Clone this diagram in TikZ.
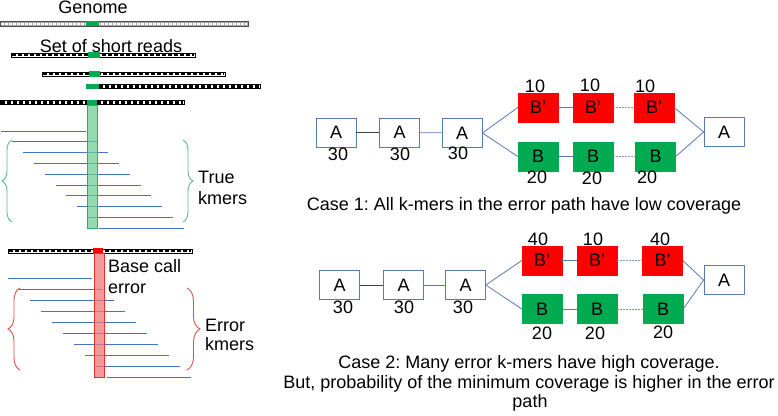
\documentclass[tikz,border=0pt]{standalone}
\usepackage{fontspec}
\setmainfont{Liberation Sans}
\usetikzlibrary{decorations.pathreplacing}
\definecolor{boxblue}{RGB}{90,120,180}
\definecolor{lineblue}{RGB}{68,114,196}
\definecolor{errred}{RGB}{255,0,0}
\definecolor{okgreen}{RGB}{0,170,80}
\definecolor{colgreen}{RGB}{110,205,150}
\definecolor{colgreenb}{RGB}{50,170,100}
\definecolor{colred}{RGB}{240,120,120}
\definecolor{colredb}{RGB}{220,50,50}
\definecolor{bracegreen}{RGB}{90,185,130}
\definecolor{bracered}{RGB}{215,80,80}
\frenchspacing
\begin{document}
\begin{tikzpicture}[x=1pt,y=-1pt,
  txt/.style={font=\fontsize{18}{21}\selectfont, inner sep=0pt},
  abox/.style={txt, draw=boxblue, fill=white, line width=0.8pt, minimum width=40pt, minimum height=29pt},
  rbox/.style={txt, draw=errred, fill=errred, minimum width=40pt, minimum height=29pt},
  gbox/.style={txt, draw=okgreen, fill=okgreen, minimum width=40pt, minimum height=29pt},
  conn/.style={draw=boxblue, line width=0.8pt},
  dconn/.style={draw=boxblue!80, line width=0.6pt, dash pattern=on 2pt off 1pt},
  kconn/.style={draw=black!75, line width=0.8pt},
  kmer/.style={draw=lineblue, line width=0.8pt},
  readbar/.style={draw=black, fill=white, line width=0.6pt},
  readfill/.style={draw=black, line width=2.4pt, dash pattern=on 4pt off 2pt},
  bracestyle/.style={decorate, line width=0.9pt}
]
\useasboundingbox (0,0) rectangle (778,415);

% ---------------- left panel ----------------
\node[txt, anchor=base] (genome) at (93,13) {Genome};
\draw[black!70, fill=black!35, line width=0.6pt] (0,21) rectangle (248,26);
\draw[white, line width=2pt, dash pattern=on 2.5pt off 1.5pt] (1,23.5) -- (247,23.5);
\fill[okgreen] (86,21) rectangle (99,26);

\node[txt, anchor=base] (reads) at (111,52) {Set of short reads};
\foreach \xa/\xb/\yy/\ga/\gb in {11/195/55/88/100, 42/225/74/89/100, 86/260/86.5/86/99, 0/184/102.5/87/97}{
  \draw[readbar] (\xa,\yy-2.2) rectangle (\xb,\yy+2.2);
  \draw[readfill] (\xa+1,\yy) -- (\xb-1,\yy);
  \fill[okgreen] (\ga,\yy-2.6) rectangle (\gb,\yy+2.6);
}

% true kmers
\foreach \i in {0,...,9}{
  \pgfmathsetmacro{\ya}{131+10.8*\i}
  \pgfmathsetmacro{\xa}{1+10.9*\i}
  \draw[kmer] (\xa,\ya) -- (\xa+85,\ya);
}
\draw[draw=colgreenb, fill=colgreen, fill opacity=0.75, line width=0.8pt] (87,105) rectangle (97,228);
\draw[bracestyle, draw=bracegreen, decoration={brace, amplitude=10pt}] (12,222) -- (12,140);
\draw[bracestyle, draw=bracegreen, decoration={brace, amplitude=10pt}] (183,140) -- (183,222);
\node[txt, anchor=base west] (true1) at (198,183) {True};
\node[txt, anchor=base west] (true2) at (198,204) {kmers};

% error read
\draw[readbar] (8,248.8) rectangle (192,253.2);
\draw[readfill] (9,251) -- (191,251);
\fill[errred] (93,248.4) rectangle (103,253.6);
\foreach \i in {0,...,9}{
  \pgfmathsetmacro{\ya}{278+11*\i}
  \pgfmathsetmacro{\xa}{8+11*\i}
  \draw[kmer] (\xa,\ya) -- (\xa+84,\ya);
}
\draw[draw=colredb, fill=colred, fill opacity=0.75, line width=0.8pt] (94,253) rectangle (104,377);
\node[txt, anchor=base west] (bc1) at (108,272) {Base call};
\node[txt, anchor=base west] (bc2) at (108,293) {error};
\draw[bracestyle, draw=bracered, decoration={brace, amplitude=12pt}] (20,370) -- (20,288);
\draw[bracestyle, draw=bracered, decoration={brace, amplitude=13pt}] (187,288) -- (187,370);
\node[txt, anchor=base west] (ek1) at (205,331) {Error};
\node[txt, anchor=base west] (ek2) at (205,350) {kmers};

% ---------------- case 1 ----------------
\node[abox] (a11) at (336,132.5) {A};
\node[abox] (a12) at (399.5,132.5) {A};
\node[abox] (a13) at (462,133) {A};
\node[rbox] (e11) at (538,107.5) {B’};
\node[rbox] (e12) at (593,107.5) {B’};
\node[rbox] (e13) at (654,107.5) {B’};
\node[gbox] (b11) at (538,156.5) {B};
\node[gbox] (b12) at (593,156.5) {B};
\node[gbox] (b13) at (655.5,156.5) {B};
\node[abox] (a14) at (724,132) {A};
\draw[kconn] (a11) -- (a12);
\draw[conn] (a12) -- (a13);
\draw[conn] (a13.east) -- (e11.west);
\draw[conn] (a13.east) -- (b11.west);
\draw[conn] (e11) -- (e12);
\draw[dconn] (e12) -- (e13);
\draw[conn] (b11) -- (b12);
\draw[dconn] (b12) -- (b13);
\draw[conn] (e13.east) -- (a14.west);
\draw[conn] (b13.east) -- (a14.west);
\node[txt] (n111) at (338,154) {30};
\node[txt] (n112) at (400,154) {30};
\node[txt] (n113) at (458,153) {30};
\node[txt] (n114) at (535,86) {10};
\node[txt] (n115) at (590,85) {10};
\node[txt] (n116) at (645,86) {10};
\node[txt] (n117) at (537,177) {20};
\node[txt] (n118) at (592,178) {20};
\node[txt] (n119) at (647,177) {20};
\node[txt, anchor=base] (cap1) at (524,210) {Case 1: All k-mers in the error path have low coverage};

% ---------------- case 2 ----------------
\node[abox] (a21) at (339.5,285) {A};
\node[abox] (a22) at (403.5,285) {A};
\node[abox] (a23) at (465.5,285) {A};
\node[rbox] (e21) at (542,260.5) {B’};
\node[rbox] (e22) at (597,260.5) {B’};
\node[rbox] (e23) at (662.5,260.5) {B’};
\node[gbox] (b21) at (542,309) {B};
\node[gbox] (b22) at (597,309) {B};
\node[gbox] (b23) at (663,309) {B};
\node[abox] (a24) at (724,280) {A};
\draw[kconn] (a21) -- (a22);
\draw[conn] (a22) -- (a23);
\draw[conn] (a23.east) -- (e21.west);
\draw[conn] (a23.east) -- (b21.west);
\draw[conn] (e21) -- (e22);
\draw[dconn] (e22) -- (e23);
\draw[conn] (b21) -- (b22);
\draw[dconn] (b22) -- (b23);
\draw[conn] (e23.east) -- (a24.west);
\draw[conn] (b23.east) -- (a24.west);
\node[txt] (n211) at (343,307) {30};
\node[txt] (n212) at (404,307) {30};
\node[txt] (n213) at (463,307) {30};
\node[txt] (n214) at (538,239) {40};
\node[txt] (n215) at (593,239) {10};
\node[txt] (n216) at (660,239) {40};
\node[txt] (n217) at (542,333) {20};
\node[txt] (n218) at (595,333) {20};
\node[txt] (n219) at (663,332) {20};
\node[txt, anchor=base] (cap21) at (529,368) {Case 2: Many error k-mers have high coverage.};
\node[txt, anchor=base] (cap22) at (529,388) {But, probability of the minimum coverage is higher in the error};
\node[txt, anchor=base] (cap23) at (530,407) {path};
\end{tikzpicture}
\end{document}
